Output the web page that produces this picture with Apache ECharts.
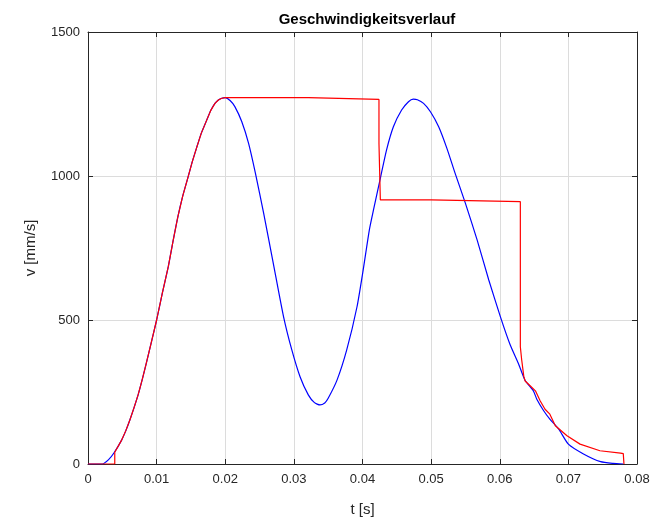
<!DOCTYPE html>
<html>
<head>
<meta charset="utf-8">
<script src="https://cdn.jsdelivr.net/npm/echarts@6/dist/echarts.min.js"></script>
<style>html,body{margin:0;padding:0;background:#fff;}#c{width:655px;height:522px;}</style>
</head>
<body>
<div id="c"></div>
<script>
var titleText = 'Geschwindigkeitsverlauf';
var xName = 't [s]';
var yName = 'v [mm/s]';
var xTicks = [0, 0.01, 0.02, 0.03, 0.04, 0.05, 0.06, 0.07, 0.08];
var yTicks = [0, 500, 1000, 1500];

var blueT = [0, 0.0021, 0.0030, 0.0038, 0.0049, 0.0055, 0.0061, 0.0067, 0.0073, 0.0079, 0.0085, 0.0092, 0.0100, 0.0108, 0.0117, 0.0124, 0.0131, 0.0138, 0.0146, 0.0152, 0.0158, 0.0165, 0.0173, 0.0179, 0.0185, 0.0190, 0.0195, 0.0200, 0.0207, 0.0214, 0.0224, 0.0234, 0.0244, 0.0256, 0.0270, 0.0285, 0.0297, 0.0309, 0.0321, 0.0330, 0.0338, 0.0345, 0.0350, 0.0363, 0.0377, 0.0392, 0.0401, 0.0410, 0.0416, 0.0426, 0.0435, 0.0445, 0.0457, 0.0467, 0.0474, 0.0480, 0.0489, 0.0499, 0.0511, 0.0523, 0.0535, 0.0550, 0.0567, 0.0584, 0.0601, 0.0615, 0.0627, 0.0637, 0.0649, 0.0654, 0.0664, 0.0673, 0.0686, 0.0700, 0.0722, 0.0747, 0.0765, 0.0780];
var blueV = [0, 0, 15, 39, 83, 115, 153, 195, 240, 293, 350, 420, 500, 590, 685, 775, 859, 930, 998, 1050, 1096, 1148, 1194, 1228, 1252, 1264, 1270, 1272, 1262, 1241, 1189, 1113, 1009, 870, 697, 511, 396, 303, 240, 213, 205, 212, 228, 292, 396, 546, 674, 813, 882, 992, 1090, 1171, 1229, 1258, 1267, 1265, 1252, 1223, 1171, 1096, 1009, 905, 778, 639, 511, 415, 350, 290, 254, 225, 185, 156, 121, 69, 35, 8, 2, 0];

var redT = [0, 0.0039, 0.0039, 0.0049, 0.0055, 0.0061, 0.0067, 0.0073, 0.0079, 0.0085, 0.0092, 0.0100, 0.0108, 0.0117, 0.0124, 0.0131, 0.0138, 0.0146, 0.0152, 0.0158, 0.0165, 0.0173, 0.0179, 0.0185, 0.0190, 0.0195, 0.0200, 0.0321, 0.0321, 0.0424, 0.0424, 0.0426, 0.0426, 0.0500, 0.0500, 0.0630, 0.0630, 0.0632, 0.0632, 0.0634, 0.0635, 0.0637, 0.0645, 0.0652, 0.0659, 0.0666, 0.0673, 0.0681, 0.0698, 0.0717, 0.0746, 0.0776, 0.0780, 0.0781];
var redV = [0, 0, 41, 83, 115, 153, 195, 240, 293, 350, 420, 500, 590, 685, 775, 859, 930, 998, 1050, 1096, 1148, 1194, 1228, 1252, 1264, 1270, 1272, 1272, 1267, 1266, 1113, 1113, 917, 917, 911, 911, 407, 407, 361, 361, 305, 288, 270, 254, 219, 190, 173, 133, 98, 69, 46, 38, 36, 0];

function zip(a, b) { var r = []; for (var i = 0; i < a.length; i++) r.push([a[i], b[i]]); return r; }

var font = 'Liberation Sans, Arial, Helvetica, sans-serif';
var chart = echarts.init(document.getElementById('c'), null, {renderer: 'canvas'});
var gridC = {left: 88, right: 18, top: 32, bottom: 58};
var lblColor = '#262626';
function baseX(extra) {
  return Object.assign({
    type: 'value', min: xTicks[0], max: xTicks[xTicks.length - 1], interval: 0.01,
    axisLine: {show: true, onZero: false, lineStyle: {color: '#262626', width: 1}},
    axisTick: {show: true, inside: true, length: 5, lineStyle: {color: '#262626'}},
    splitLine: {show: false}
  }, extra);
}
function baseY(extra) {
  return Object.assign({
    type: 'value', min: yTicks[0], max: yTicks[yTicks.length - 1], interval: 500,
    axisLine: {show: true, onZero: false, lineStyle: {color: '#262626', width: 1}},
    axisTick: {show: true, inside: true, length: 5, lineStyle: {color: '#262626'}},
    splitLine: {show: false}
  }, extra);
}
chart.setOption({
  animation: false,
  backgroundColor: '#ffffff',
  title: {text: titleText, left: 362, top: 7, textAlign: 'center',
    textStyle: {fontFamily: font, fontSize: 15, fontWeight: 'bold', color: '#000'}},
  grid: gridC,
  xAxis: [
    baseX({position: 'bottom', name: xName, nameLocation: 'middle', nameGap: 38,
      nameTextStyle: {fontFamily: font, fontSize: 15, color: lblColor},
      axisLabel: {show: true, margin: 9, fontFamily: font, fontSize: 13, color: lblColor,
        formatter: function (v) { return String(+v.toFixed(2)); }},
      splitLine: {show: true, lineStyle: {color: '#dcdcdc', width: 1}}}),
    baseX({position: 'top', axisLabel: {show: false}})
  ],
  yAxis: [
    baseY({position: 'left', name: yName, nameLocation: 'middle', nameGap: 50,
      nameTextStyle: {fontFamily: font, fontSize: 15, color: lblColor},
      axisLabel: {show: true, margin: 8, fontFamily: font, fontSize: 13, color: lblColor,
        formatter: function (v) { return String(v); }},
      splitLine: {show: true, lineStyle: {color: '#dcdcdc', width: 1}}}),
    baseY({position: 'right', axisLabel: {show: false}})
  ],
  series: [
    {type: 'line', data: zip(blueT, blueV), showSymbol: false, symbol: 'none',
      lineStyle: {color: '#0000ff', width: 1.2}, itemStyle: {color: '#0000ff'},
      smooth: 0.2, z: 2},
    {type: 'line', data: zip(redT, redV), showSymbol: false, symbol: 'none',
      lineStyle: {color: '#ff0000', width: 1.2}, itemStyle: {color: '#ff0000'}, smooth: false, z: 3}
  ]
});
</script>
</body>
</html>
